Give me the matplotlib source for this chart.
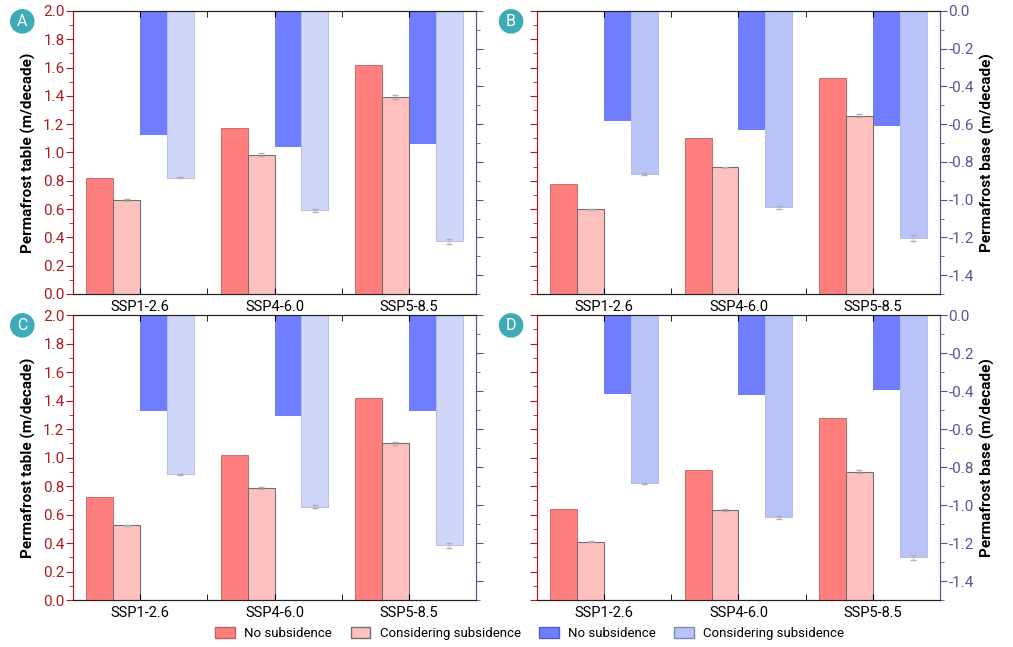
import numpy as np
import matplotlib.pyplot as plt
from matplotlib.patches import Patch
from matplotlib.ticker import MultipleLocator

plt.rcParams['font.family'] = ['Roboto', 'DejaVu Sans']

scenarios = ["SSP1-2.6", "SSP4-6.0", "SSP5-8.5"]
panels = ["A", "B", "C", "D"]

# permafrost table (left axis), per panel
table_no = {
    "A": [0.82, 1.17, 1.62],
    "B": [0.78, 1.10, 1.53],
    "C": [0.72, 1.02, 1.415],
    "D": [0.64, 0.915, 1.28],
}
table_sub = {
    "A": [0.665, 0.985, 1.39],
    "B": [0.60, 0.895, 1.26],
    "C": [0.525, 0.785, 1.10],
    "D": [0.41, 0.63, 0.90],
}
table_sub_err = {
    "A": [0.005, 0.012, 0.015],
    "B": [0.004, 0.006, 0.012],
    "C": [0.004, 0.006, 0.010],
    "D": [0.004, 0.006, 0.010],
}
# permafrost base (right axis), per panel
base_no = {
    "A": [-0.655, -0.72, -0.703],
    "B": [-0.583, -0.631, -0.608],
    "C": [-0.507, -0.533, -0.507],
    "D": [-0.418, -0.423, -0.395],
}
base_sub = {
    "A": [-0.883, -1.057, -1.221],
    "B": [-0.864, -1.041, -1.203],
    "C": [-0.839, -1.009, -1.212],
    "D": [-0.886, -1.065, -1.275],
}
base_sub_err = {
    "A": [0.004, 0.010, 0.015],
    "B": [0.004, 0.008, 0.015],
    "C": [0.004, 0.008, 0.012],
    "D": [0.004, 0.006, 0.012],
}

red = "#FF7F7F"
pink = "#FFC0C0"
blue = "#6E7EFF"
lblue = {"A": "#D0D5FA", "B": "#BAC3F8", "C": "#D0D5FA", "D": "#BAC3F8"}
red_txt = "#B01C1C"
blue_txt = "#55559A"
teal = "#3FAAB8"

fig = plt.figure(figsize=(10.13, 6.47), dpi=100)

positions = {
    "A": [0.072, 0.5456, 0.398, 0.4374],
    "B": [0.530, 0.5456, 0.398, 0.4374],
    "C": [0.072, 0.0726, 0.398, 0.4405],
    "D": [0.530, 0.0726, 0.398, 0.4405],
}

x = np.arange(len(scenarios))
w = 0.2

for p in panels:
    ax = fig.add_axes(positions[p])
    ax2 = ax.twinx()
    ax.set_zorder(ax2.get_zorder() + 1)
    ax.patch.set_visible(False)

    ax.bar(x - 0.3, table_no[p], w, color=red, edgecolor="#C06060", linewidth=0.6)
    ax.bar(x - 0.1, table_sub[p], w, color=pink, edgecolor="#707070", linewidth=0.8,
           yerr=table_sub_err[p], ecolor="#B0B0B0", capsize=2, error_kw={"elinewidth": 0.5})
    ax2.bar(x + 0.1, base_no[p], w, color=blue, edgecolor="none")
    ax2.bar(x + 0.3, base_sub[p], w, color=lblue[p], edgecolor="#B0B6E0", linewidth=0.6,
            yerr=base_sub_err[p], ecolor="#B0B0B0", capsize=2, error_kw={"elinewidth": 0.5})

    ax.set_xlim(-0.5, 2.5)
    ax.set_ylim(0, 2.0)
    ax2.set_ylim(-1.5, 0)
    ax.set_xticks(x)
    ax.set_xticklabels(scenarios, fontsize=10.5)
    ax.set_xticks([0.5, 1.5], minor=True)
    ax.tick_params(axis="x", which="both", top=True, direction="in", length=4, pad=4)

    ax.yaxis.set_major_locator(MultipleLocator(0.2))
    ax.yaxis.set_minor_locator(MultipleLocator(0.1))
    ax2.yaxis.set_major_locator(MultipleLocator(0.2))
    ax2.yaxis.set_minor_locator(MultipleLocator(0.1))

    ax.tick_params(axis="y", which="major", colors=red_txt, labelsize=11, length=5, pad=1)
    ax.tick_params(axis="y", which="minor", colors=red_txt, length=3)
    ax2.tick_params(axis="y", which="major", colors=blue_txt, labelsize=11, length=5, pad=1)
    ax2.tick_params(axis="y", which="minor", colors=blue_txt, length=3)

    for a in (ax, ax2):
        a.spines["left"].set_color(red_txt)
        a.spines["right"].set_color(blue_txt)
        a.spines["top"].set_color("#222222")
        a.spines["bottom"].set_color("#222222")

    ax.yaxis.set_major_formatter(plt.FuncFormatter(lambda v, pos: f"{v:.1f}"))
    ax2.yaxis.set_major_formatter(plt.FuncFormatter(lambda v, pos: f"{v:.1f}".replace("-0.0", "0.0")))

    if p in ("A", "C"):
        ax.set_ylabel("Permafrost table (m/decade)", fontsize=11, fontweight="bold",
                      color="black", labelpad=5)
        ax2.tick_params(axis="y", labelright=False)
        lx = 0.022
    else:
        ax2.set_ylabel("Permafrost base (m/decade)", fontsize=11, fontweight="bold",
                       color="black", labelpad=4)
        ax.tick_params(axis="y", labelleft=False)
        lx = 0.5045

    pos = positions[p]
    ly = pos[1] + pos[3] - 0.016
    fig.text(lx, ly, p, ha="center", va="center", color="white", fontsize=11.5,
             bbox=dict(boxstyle="circle,pad=0.3", facecolor=teal, edgecolor="none"))

handles = [
    Patch(facecolor=red, edgecolor="#C06060", label="No subsidence"),
    Patch(facecolor=pink, edgecolor="#707070", label="Considering subsidence"),
    Patch(facecolor=blue, edgecolor="#5060C0", label="No subsidence"),
    Patch(facecolor="#BAC3F8", edgecolor="#8088B0", label="Considering subsidence"),
]
fig.legend(handles=handles, loc="center", bbox_to_anchor=(0.523, 0.021), ncol=4,
           frameon=False, fontsize=9.5, handlelength=1.5, handleheight=0.9,
           columnspacing=1.4, handletextpad=0.7)

fig.savefig("out.png", dpi=100)
